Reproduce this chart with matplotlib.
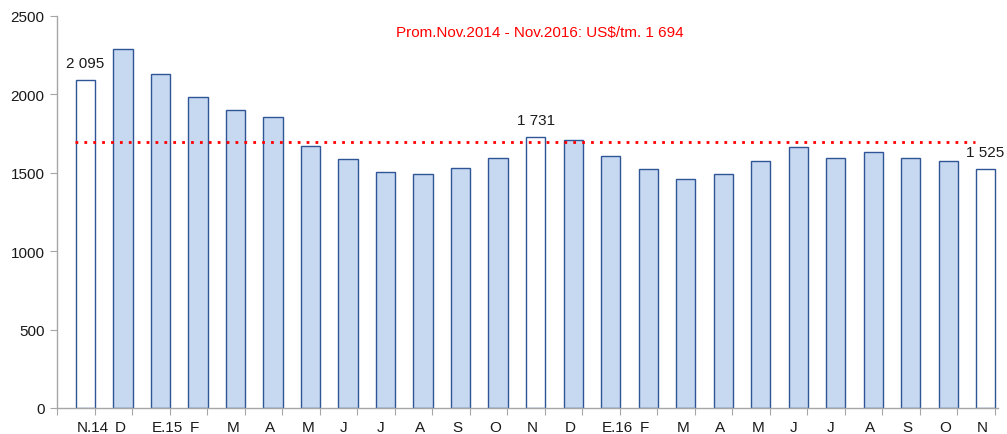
import matplotlib
matplotlib.use("Agg")
import matplotlib.pyplot as plt
import numpy as np

plt.rcParams["font.family"] = ["Liberation Sans", "DejaVu Sans"]

# Precio mensual, US$/tm (Nov.2014 - Nov.2016)
months = ["N.14", "D", "E.15", "F", "M", "A", "M", "J", "J", "A", "S", "O",
          "N", "D", "E.16", "F", "M", "A", "M", "J", "J", "A", "S", "O", "N"]
prices = [2095, 2290, 2128, 1981, 1898, 1858, 1671, 1588, 1503, 1490, 1531, 1597,
          1731, 1707, 1609, 1524, 1462, 1494, 1577, 1663, 1596, 1631, 1592, 1573, 1525]
highlight = [0, 12, 24]          # bars drawn white and labelled
average = 1694
avg_text = "Prom.Nov.2014 - Nov.2016: US$/tm. 1 694"

BLUE_FILL = "#c6d9f1"
BLUE_EDGE = "#2f5597"
AXIS_GRAY = "#a6a6a6"
FS = 11

fig = plt.figure(figsize=(10.07, 4.35), dpi=100)
ax = fig.add_axes([57 / 1007, 1 - 409 / 435, (998 - 57) / 1007, (409 - 17) / 435])

x = np.arange(len(prices))
colors = ["white" if i in highlight else BLUE_FILL for i in x]
ax.bar(x, prices, 0.51, color=colors, edgecolor=BLUE_EDGE, linewidth=1.0, zorder=2)

for i in highlight:
    ax.text(x[i], prices[i] + 60, f"{prices[i]:,}".replace(",", " "),
            ha="center", va="bottom", fontsize=FS, color="#1a1a1a")

ax.plot([-0.27, 23.72], [average, average], color="#ff0000", linestyle=(0, (1, 2.2)),
        linewidth=2.0, zorder=3)
ax.text(12.1, 2400, avg_text, ha="center", va="center", fontsize=FS, color="#ff0000")

ax.set_xlim(-0.76, 24.33)
ax.set_ylim(0, 2500)
ax.set_yticks(range(0, 2501, 500))
ax.tick_params(axis="y", direction="out", length=5, color=AXIS_GRAY, labelsize=FS,
               labelcolor="#1a1a1a", pad=4)

# category boundary ticks, labels placed separately
ax.set_xticks(np.arange(26) - 0.76)
ax.set_xticklabels([])
ax.tick_params(axis="x", direction="out", length=5, color=AXIS_GRAY)
for i, m in enumerate(months):
    ax.text(i - 0.227, -75, m, ha="left", va="top", fontsize=FS, color="#1a1a1a",
            clip_on=False)

for side in ("top", "right"):
    ax.spines[side].set_visible(False)
for side in ("left", "bottom"):
    ax.spines[side].set_color(AXIS_GRAY)
    ax.spines[side].set_linewidth(1.0)

fig.savefig("out.png", dpi=100)
